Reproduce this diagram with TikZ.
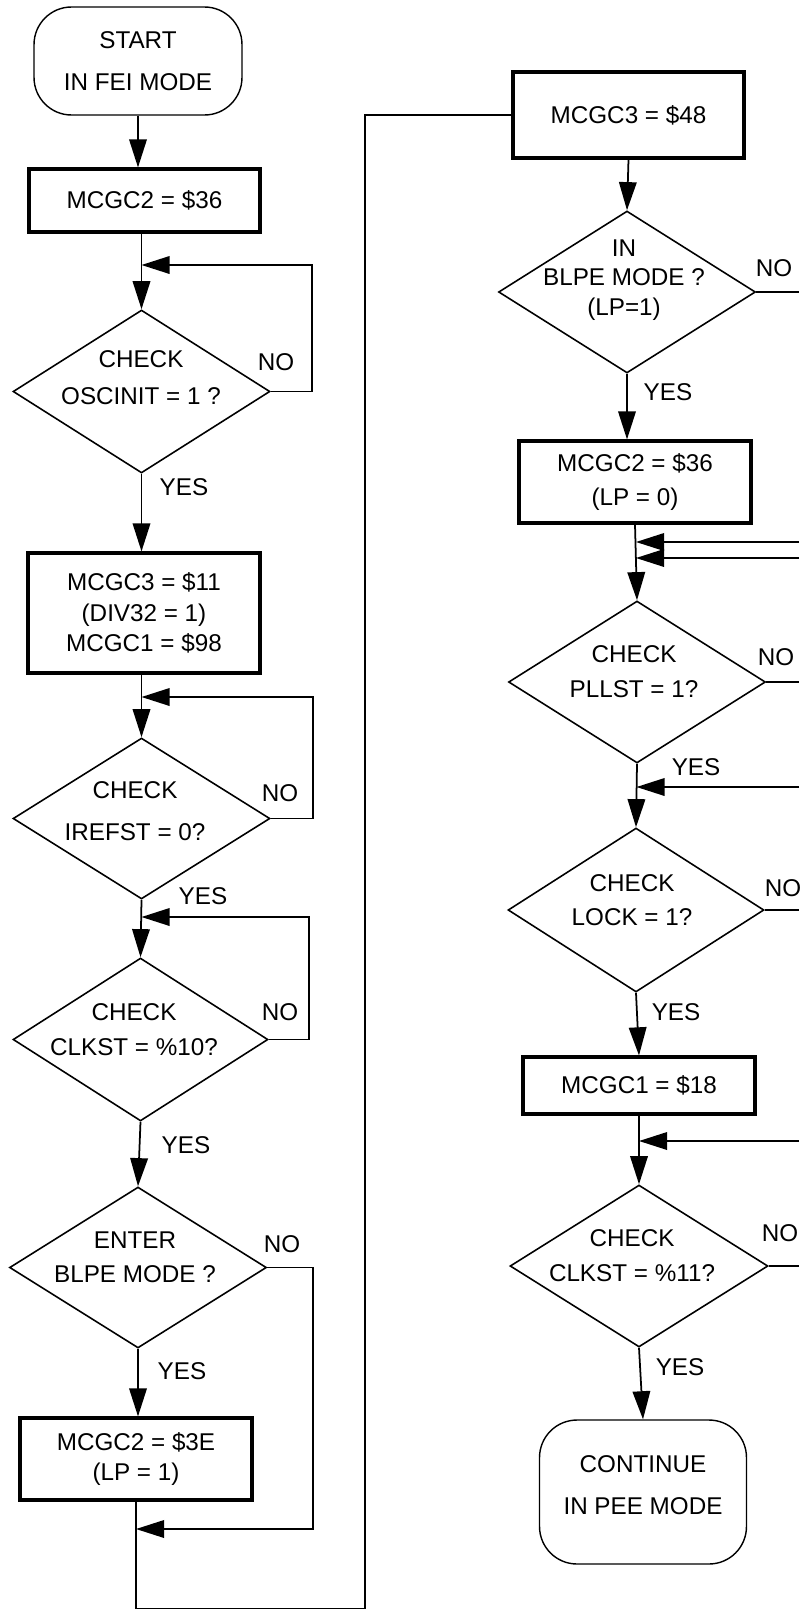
\documentclass[tikz,border=0pt]{standalone}
\usepackage{fontspec}
\setmainfont{Liberation Sans}
\usepackage{tikz}
\usetikzlibrary{shapes,arrows.meta,positioning}
\tikzset{
  procbox/.style={draw, rectangle, line width=1.8pt, inner sep=0pt, align=center},
  decbox/.style={draw, diamond, line width=0.9pt, inner sep=0pt},
  termbox/.style={draw, rectangle, rounded corners=0.75cm, line width=0.8pt, inner sep=0pt, align=center},
  txt/.style={align=center, inner sep=0pt},
  yn/.style={inner sep=0pt},
  flow/.style={->, line width=1pt},
  wire/.style={line width=1pt}
}
\begin{document}
\begin{tikzpicture}[x=0.02cm, y=-0.02cm, >={Triangle[length=16pt,width=10pt]}, every node/.style={font=\fontsize{13.8}{16}\selectfont}]
        \useasboundingbox (0,0) rectangle (799,1609);
        \coordinate (rim) at (799,0);

        % Left column
        \node[termbox, minimum width=4.16cm, minimum height=2.16cm] (start) at (138,61) {START\\[7.8pt]IN FEI MODE};
        \node[procbox, minimum width=4.62cm, minimum height=1.26cm] (set36) at (144.5,200.5) {MCGC2 = \$36};
        \node[decbox, minimum width=5.14cm, minimum height=3.26cm] (oscchk) at (141.5,391.5) {};
        \node[txt] (oscchk-t) at (141,378) {CHECK\\[5pt]OSCINIT = 1 ?};
        \node[procbox, minimum width=4.64cm, minimum height=2.4cm] (set11) at (144,613) {MCGC3 = \$11\\[1.3pt](DIV32 = 1)\\[1.3pt]MCGC1 = \$98};
        \node[decbox, minimum width=5.14cm, minimum height=3.22cm] (irefchk) at (141.5,818.5) {};
        \node[txt] (irefchk-t) at (135,811) {CHECK\\[7.8pt]IREFST = 0?};
        \node[decbox, minimum width=5.1cm, minimum height=3.26cm] (clkchk) at (140.5,1039.5) {};
        \node[txt] (clkchk-t) at (134,1030) {CHECK\\[3.8pt]CLKST = \%10?};
        \node[decbox, minimum width=5.14cm, minimum height=3.22cm] (blpeask) at (138,1267.5) {};
        \node[txt] (blpeask-t) at (135,1257) {ENTER\\[3.3pt]BLPE MODE ?};
        \node[procbox, minimum width=4.64cm, minimum height=1.64cm] (set3e) at (136,1459) {MCGC2 = \$3E\\[1pt](LP = 1)};

        % Right column
        \node[procbox, minimum width=4.62cm, minimum height=1.72cm] (set48) at (628.5,115) {MCGC3 = \$48};
        \node[decbox, minimum width=5.14cm, minimum height=3.24cm] (blpechk) at (627,292) {};
        \node[txt] (blpechk-t) at (624,280) {IN\\[0.7pt]BLPE MODE ?\\[0.7pt](LP=1)};
        \node[procbox, minimum width=4.64cm, minimum height=1.64cm] (set36b) at (635,482) {MCGC2 = \$36\\[3.3pt](LP = 0)};
        \node[decbox, minimum width=5.14cm, minimum height=3.24cm] (pllchk) at (637,682) {};
        \node[txt] (pllchk-t) at (634,672) {CHECK\\[3.8pt]PLLST = 1?};
        \node[decbox, minimum width=5.12cm, minimum height=3.28cm] (lockchk) at (636,910) {};
        \node[txt] (lockchk-t) at (632,900) {CHECK\\[3.3pt]LOCK = 1?};
        \node[procbox, minimum width=4.64cm, minimum height=1.14cm] (set18) at (639,1085.5) {MCGC1 = \$18};
        \node[decbox, minimum width=5.16cm, minimum height=3.24cm] (clkfin) at (639,1266) {};
        \node[txt] (clkfin-t) at (632,1256) {CHECK\\[3.8pt]CLKST = \%11?};
        \node[termbox, minimum width=4.14cm, minimum height=2.88cm] (pee) at (643,1492) {CONTINUE\\[7.8pt]IN PEE MODE\\[-8pt]};

        % Merge points of the loops
        \coordinate (m1) at (141.5,265);
        \coordinate (m2) at (141.5,697);
        \coordinate (m3) at (141.5,917);
        \coordinate (m4) at (136,1529);
        \coordinate (m5) at (636,542);
        \coordinate (m6) at (636,558);
        \coordinate (m7) at (636.5,787);
        \coordinate (m8) at (639,1141);

        % Left flow
        \draw[flow] (start.south) -- (set36.north -| start.south);
        \draw[flow] (oscchk.north |- set36.south) -- (oscchk.north);
        \draw[flow] (oscchk.south) -- (oscchk.south |- set11.north);
        \draw[flow] (irefchk.north |- set11.south) -- (irefchk.north);
        \draw[flow] (irefchk.south) -- (clkchk.north);
        \draw[flow] (clkchk.south) -- (blpeask.north);
        \draw[flow] (blpeask.south) -- (blpeask.south |- set3e.north);
        \draw[flow] (oscchk.east) -- ++(41,0) |- (m1);
        \draw[flow] (irefchk.east) -- ++(42,0) |- (m2);
        \draw[flow] (clkchk.east) -- ++(40,0) |- (m3);
        \draw[flow] (blpeask.east) -- ++(46,0) |- (m4);
        \draw[wire] (set3e.south) -- ++(0,107) -| (365,115) -- (set48.west);

        % Right flow
        \draw[flow] (set48.south) -- (blpechk.north);
        \draw[wire] (blpechk.east) -- (blpechk.east -| rim);
        \draw[flow] (blpechk.south) -- (blpechk.south |- set36b.north);
        \draw[flow] (set36b.south) -- (pllchk.north);
        \draw[flow] (rim |- m5) -- (m5);
        \draw[flow] (rim |- m6) -- (m6);
        \draw[wire] (pllchk.east) -- (pllchk.east -| rim);
        \draw[flow] (pllchk.south) -- (lockchk.north);
        \draw[flow] (rim |- m7) -- (m7);
        \draw[wire] (lockchk.east) -- (lockchk.east -| rim);
        \draw[flow] (lockchk.south) -- (set18.north);
        \draw[flow] (set18.south) -- (clkfin.north);
        \draw[flow] (rim |- m8) -- (m8);
        \draw[wire] (clkfin.east) -- (clkfin.east -| rim);
        \draw[flow] (clkfin.south) -- (pee.north);

        % YES / NO labels
        \node[yn] (osc-no) at (276,362) {NO};
        \node[yn] (osc-yes) at (184,487) {YES};
        \node[yn] (iref-no) at (280,793) {NO};
        \node[yn] (iref-yes) at (203,896) {YES};
        \node[yn] (clk-no) at (280,1012) {NO};
        \node[yn] (clk-yes) at (186,1145) {YES};
        \node[yn] (blpe-no) at (282,1244) {NO};
        \node[yn] (blpe-yes) at (182,1371) {YES};
        \node[yn] (blpechk-no) at (774,268) {NO};
        \node[yn] (blpechk-yes) at (668,392) {YES};
        \node[yn] (pll-no) at (776,657) {NO};
        \node[yn] (pll-yes) at (696,767) {YES};
        \node[yn] (lock-no) at (783,888) {NO};
        \node[yn] (lock-yes) at (676,1012) {YES};
        \node[yn] (clkfin-no) at (780,1233) {NO};
        \node[yn] (clkfin-yes) at (680,1367) {YES};
    \end{tikzpicture}
\end{document}
